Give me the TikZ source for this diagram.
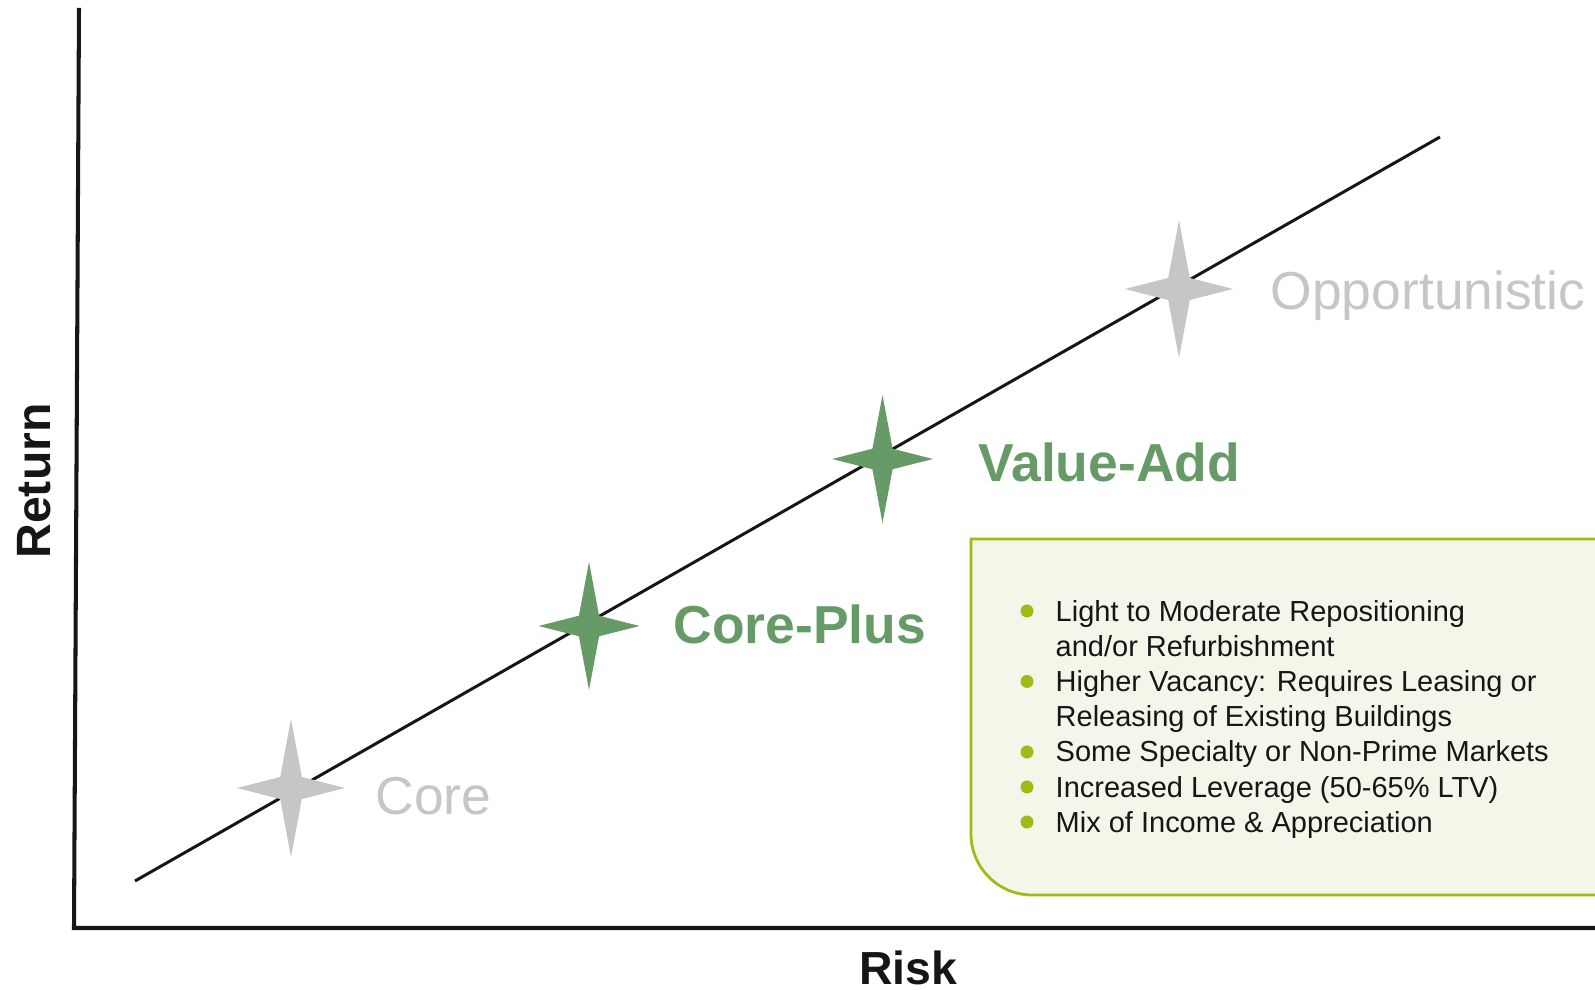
\documentclass[tikz,border=0pt]{standalone}
\usepackage{fontspec}
\setmainfont{Liberation Sans}
\usetikzlibrary{positioning}

\definecolor{stargreen}{RGB}{102,155,103}
\definecolor{stargray}{RGB}{198,198,198}
\definecolor{boxfill}{RGB}{244,246,233}
\definecolor{boxline}{RGB}{160,186,22}
\definecolor{ink}{RGB}{22,22,22}

\begin{document}
\begin{tikzpicture}[
    axis/.style={line width=1.15pt, draw=ink},
    trend/.style={line width=0.85pt, draw=ink},
    sparkle/.pic={\fill (0,1) -- (0.2,0.16) -- (1,0) -- (0.2,-0.16) -- (0,-1) -- (-0.2,-0.16) -- (-1,0) -- (-0.2,0.16) -- cycle;},
    graystar/.style={fill=stargray, xscale=0.54, yscale=0.69},
    greenstar/.style={fill=stargreen, xscale=0.505, yscale=0.64},
    faint/.style={font=\fontsize{15.2}{18}\selectfont, text=stargray, anchor=base west, inner sep=0pt},
    strong/.style={font=\fontsize{15.2}{18}\selectfont\bfseries, text=stargreen, anchor=base west, inner sep=0pt},
    axislabel/.style={font=\bfseries, text=ink, anchor=base, inner sep=0pt},
    infobox/.style={fill=boxfill, draw=boxline, line width=0.8pt},
    dot/.style={fill=boxline},
    bullets/.style={font=\fontsize{8.25}{9.98}\selectfont, align=left, anchor=north west, inner sep=0pt, text=ink}]

  \useasboundingbox (0,0) rectangle (15.95,9.90);

  % axes
  \coordinate (ytop)   at (0.79,9.82);
  \coordinate (origin) at (0.74,0.62);
  \coordinate (xend)   at (15.95,0.62);
  \draw[axis] (ytop) -- (origin) -- (xend);

  \node[axislabel, font=\fontsize{13.7}{16}\selectfont\bfseries, rotate=90] (ret) at (0.50,5.09) {Return};
  \node[axislabel, font=\fontsize{13.2}{15}\selectfont\bfseries] (risk) at (9.08,0.05) {Risk};

  % risk / return line
  \coordinate (lo) at (1.35,1.09);
  \coordinate (hi) at (14.40,8.53);
  \draw[trend] (lo) -- (hi);

  % strategies
  \pic[graystar]  at (2.91,2.02)  {sparkle};
  \pic[greenstar] at (5.89,3.64)  {sparkle};
  \pic[greenstar] at (8.825,5.31) {sparkle};
  \pic[graystar]  at (11.79,7.01) {sparkle};

  \node[faint]  (core)     at (3.75,1.75)  {Core};
  \node[strong] (coreplus) at (6.73,3.46)  {Core-Plus};
  \node[strong] (valueadd) at (9.78,5.08)  {Value-Add};
  \node[faint]  (opp)      at (12.70,6.80) {Opportunistic};

  % value-add box
  \draw[infobox] (15.95,4.51) -- (9.71,4.51) -- (9.71,1.56)
        arc[start angle=180, end angle=270, radius=0.61] -- (15.95,0.95);

  \foreach \y in {3.79,3.085,2.38,2.03,1.68}
    \fill[dot] (10.27,\y) circle (0.065);

  \node[bullets] (list) at (10.55,3.936) {\strut Light to Moderate Repositioning\\
    and/or Refurbishment\\
    Higher Vacancy: Requires Leasing or\\
    Releasing of Existing Buildings\\
    Some Specialty or Non-Prime Markets\\
    Increased Leverage (50-65\% LTV)\\
    Mix of Income \& Appreciation};
\end{tikzpicture}
\end{document}
